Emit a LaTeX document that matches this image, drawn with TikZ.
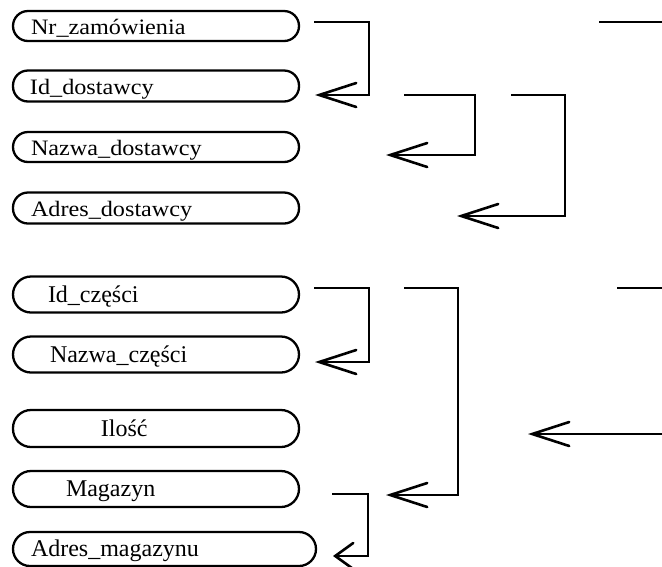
\documentclass[tikz,border=0pt]{standalone}
\usepackage{fontspec}
\setmainfont{Liberation Serif}
\newfontfamily\widefont{Liberation Serif}[FakeStretch=1.1]
\usetikzlibrary{arrows.meta}

\tikzset{
  attr/.style={draw, line width=2.3pt, rounded corners=15pt, inner sep=0pt,
    minimum width=286pt, minimum height=30pt, text height=20pt, text depth=3.4pt,
    font=\widefont\fontsize{22}{26}\selectfont},
  tallattr/.style={attr, rounded corners=18pt, minimum height=36pt,
    text height=20pt, text depth=5pt, font=\rmfamily\fontsize{24}{28}\selectfont},
  fd/.style={line width=2.6pt, line join=miter, line cap=butt},
  barb/.style={-{Straight Barb[length=37pt,width=24pt,line cap=round]}},
  smallbarb/.style={-{Straight Barb[length=18pt,width=26pt,line cap=round]}},
}
\newcommand{\attrtext}[3][286pt]{\makebox[#1][l]{\hspace*{#2}#3}}

\begin{document}
\begin{tikzpicture}[x=1pt, y=-1pt]
  \useasboundingbox (0,0) rectangle (662,566);

  % attributes of the order / supplier group
  \node[attr] (nr)  at (156,26)  {\attrtext{18pt}{Nr\_zamówienia}};
  \node[attr, minimum height=31pt] (ids) at (156,86)  {\attrtext{17pt}{Id\_dostawcy}};
  \node[attr] (nd)  at (156,147) {\attrtext{18pt}{Nazwa\_dostawcy}};
  \node[attr, minimum height=31pt] (ad)  at (156,208) {\attrtext{18pt}{Adres\_dostawcy}};

  % attributes of the part / warehouse group
  \node[tallattr] (idc) at (156,294.5) {\attrtext{35pt}{Id\_części}};
  \node[tallattr] (nc)  at (156,354.5) {\attrtext{37pt}{Nazwa\_części}};
  \node[tallattr, minimum height=37pt] (il)  at (156,428.5) {\attrtext{88pt}{Ilość}};
  \node[tallattr] (mg)  at (156,489)   {\attrtext{53pt}{Magazyn}};
  \node[tallattr, minimum height=34pt, rounded corners=17pt, minimum width=303pt] (am) at (164.5,549)
    {\attrtext[303pt]{18pt}{Adres\_magazynu}};

  % end points of the dependency arrows
  \coordinate (s1) at (314,22);  \coordinate (e1) at (315,95);
  \coordinate (s2) at (404,95);  \coordinate (e2) at (386,155);
  \coordinate (s3) at (511,95);  \coordinate (e3) at (457,216);
  \coordinate (s4) at (599,22);  \coordinate (e4) at (662,22);
  \coordinate (s5) at (314,288); \coordinate (e5) at (315,362);
  \coordinate (s6) at (404,288); \coordinate (e6) at (386,495);
  \coordinate (s7) at (617,288); \coordinate (e7) at (662,288);
  \coordinate (s8) at (662,434); \coordinate (e8) at (528,434);
  \coordinate (s9) at (332,494); \coordinate (e9) at (333,556);

  % dependencies of the first group
  \draw[fd, barb] (s1) -- (369,22) -- (369,95) -- (e1);
  \draw[fd, barb] (s2) -- (475,95) -- (475,155) -- (e2);
  \draw[fd, barb] (s3) -- (565,95) -- (565,216) -- (e3);
  \draw[fd] (s4) -- (e4);

  % dependencies of the second group
  \draw[fd, barb] (s5) -- (369,288) -- (369,362) -- (e5);
  \draw[fd, barb] (s6) -- (458,288) -- (458,495) -- (e6);
  \draw[fd] (s7) -- (e7);
  \draw[fd, barb] (s8) -- (e8);
  \draw[fd, smallbarb] (s9) -- (368,494) -- (368,556) -- (e9);
\end{tikzpicture}
\end{document}
